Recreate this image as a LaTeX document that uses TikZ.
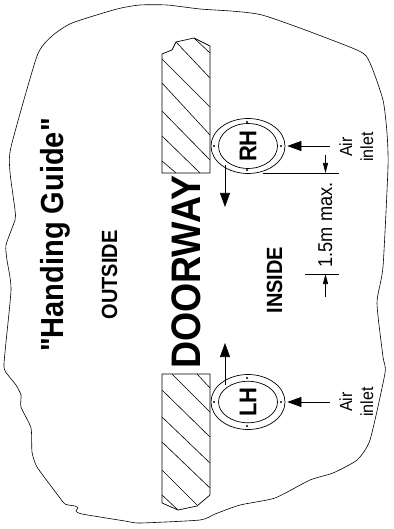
\documentclass[tikz,border=0pt]{standalone}
\usepackage{fontspec}
\newfontfamily\labelfont{Liberation Sans}
\usetikzlibrary{arrows.meta,shapes.geometric}
\newcommand{\tallbox}[1]{\scalebox{1}[1.1]{#1}}
\tikzset{
  outline/.style = {draw, line width=0.6pt},
  doorwall/.style = {draw, line width=0.7pt, line join=round},
  hatchline/.style = {draw, line width=0.6pt},
  flangeout/.style = {shape=ellipse, draw, line width=0.7pt, inner sep=0pt,
    minimum width=74pt, minimum height=55pt},
  flangein/.style = {shape=ellipse, draw, line width=0.7pt, inner sep=0pt,
    rotate=90, minimum width=38pt, minimum height=59pt,
    font=\labelfont\fontsize{22}{24}\selectfont\bfseries},
  bigarrow/.style = {draw, line width=0.7pt, -{Triangle[length=14pt,width=10pt]}},
  dimarrow/.style = {draw, line width=0.7pt, -{Triangle[length=10pt,width=5pt]}},
  turned/.style = {rotate=90, anchor=base, inner sep=0pt, align=center}
}
\begin{document}
\begin{tikzpicture}[x=1pt, y=-1pt]
  \useasboundingbox (0,0) rectangle (393,529);
  % wall edge of the room
  \draw[outline] plot[smooth cycle, tension=0.35] coordinates {
    (140,5) (167,5) (200,9) (262,15) (357,50) (370,63) (383,100) (387,133)
    (388,167) (383,267) (377,303) (383,357) (385,373) (370,440) (357,460)
    (333,473) (310,480) (275,498) (240,505) (215,514) (200,520) (140,523)
    (125,521) (82,514) (76,511) (78,508) (75,506) (65,504) (57,494) (37,467)
    (32,452) (31,428) (21,407) (21,395) (16,385) (8,375) (4,364) (11,290)
    (7,260) (6,245) (15,220) (15,210) (10,172) (11,147) (37,56) (52,36)
    (72,23) (117,9)};
  % door jambs
  \draw[doorwall] (162,173) -- (162,54) -- (172,50) -- (176,42) -- (194,38)
    -- (210,46) -- (210,173) -- cycle;
  \draw[doorwall] (162,374) -- (162,503) -- (178,510) -- (197,506)
    -- (210,495) -- (210,374) -- cycle;
  \foreach \xa/\ya/\xb/\yb in {
    194/38/210/53, 176/42/210/78, 162/59/210/107, 162/83/210/135,
    162/111/210/160, 162/136/200/173, 162/161/176/173,
    197/374/210/388, 172/374/210/412, 162/390/210/437, 162/417/210/463,
    162/442/210/488, 162/470/197/505, 162/495/178/510}
    \draw[hatchline] (\xa,\ya) -- (\xb,\yb);
  % flanges
  \node[flangeout] (rhouter) at (248,146) {};
  \node[flangein] (rhinner) at (248,146) {\tallbox{RH}};
  \node[flangeout] (lhouter) at (248,402) {};
  \node[flangein] (lhinner) at (248,402) {\tallbox{LH}};
  \foreach \cy in {146,402} {
    \fill (214,\cy) circle (1.2pt);
    \fill (281,\cy) circle (1.2pt);
    \fill (247,\cy-24) circle (1.2pt);
    \fill (247,\cy+24) circle (1.2pt);
  }
  % texts
  \node[turned, font=\labelfont\fontsize{29}{32}\selectfont\bfseries] (guide) at (63,235) {\tallbox{"Handing Guide"}};
  \node[turned, font=\labelfont\fontsize{20}{22}\selectfont\bfseries] (outside) at (117,275) {\tallbox{OUTSIDE}};
  \node[turned, font=\labelfont\fontsize{37.5}{40}\selectfont\bfseries] (doorway) at (200,272) {\tallbox{DOORWAY}};
  \node[turned, font=\labelfont\fontsize{20}{22}\selectfont\bfseries] (inside) at (282,280) {\tallbox{INSIDE}};
  \node[turned, font=\labelfont\fontsize{18.2}{20}\selectfont] (height) at (332,225) {\tallbox{1.5m max.}};
  \node[turned, font=\labelfont\fontsize{16}{18}\selectfont] (rhair) at (352,147) {\tallbox{Air}};
  \node[turned, font=\labelfont\fontsize{16}{18}\selectfont] (rhinlet) at (373,147) {\tallbox{inlet}};
  \node[turned, font=\labelfont\fontsize{16}{18}\selectfont] (lhair) at (352,402) {\tallbox{Air}};
  \node[turned, font=\labelfont\fontsize{16}{18}\selectfont] (lhinlet) at (373,402) {\tallbox{inlet}};
  % air arrows
  \coordinate (rhfeed) at (330,146);
  \coordinate (lhfeed) at (330,402);
  \draw[bigarrow, shorten >=2pt] (rhfeed) -- (rhouter);
  \draw[bigarrow, shorten >=2pt] (lhfeed) -- (lhouter);
  % door swing
  \coordinate (rhswinga) at (225,165);
  \coordinate (rhswingb) at (225,207);
  \coordinate (lhswinga) at (225,385);
  \coordinate (lhswingb) at (225,343);
  \draw[bigarrow] (rhswinga) -- (rhswingb);
  \draw[bigarrow] (lhswinga) -- (lhswingb);
  % dimension
  \coordinate (dimtopa) at (263,173);
  \coordinate (dimtopb) at (339,173);
  \coordinate (dimbota) at (305,274);
  \coordinate (dimbotb) at (339,274);
  \draw[line width=0.7pt] (dimtopa) -- (dimtopb);
  \draw[line width=0.7pt] (dimbota) -- (dimbotb);
  \coordinate (dimupper) at (325.5,155);
  \coordinate (dimupperend) at (325.5,173);
  \coordinate (dimlower) at (325.5,297);
  \coordinate (dimlowerend) at (325.5,274);
  \draw[dimarrow] (dimupper) -- (dimupperend);
  \draw[dimarrow] (dimlower) -- (dimlowerend);
\end{tikzpicture}
\end{document}
